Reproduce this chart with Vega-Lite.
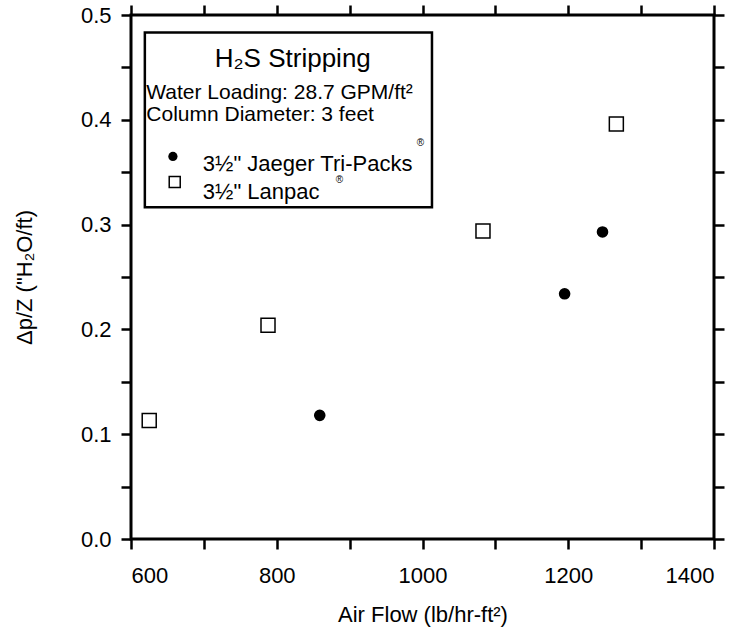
{
  "$schema": "https://vega.github.io/schema/vega-lite/v6.json",
  "autosize": "none",
  "width": 583,
  "height": 524,
  "padding": {"left": 131, "top": 15, "right": 27, "bottom": 97},
  "background": "white",
  "config": {
    "view": {"stroke": "black", "strokeWidth": 3},
    "font": "Liberation Sans",
    "axis": {
      "grid": false,
      "domain": false,
      "tickColor": "black",
      "tickWidth": 2.5,
      "labelColor": "black",
      "titleColor": "black",
      "labelFont": "Liberation Sans",
      "titleFont": "Liberation Sans",
      "labelFontSize": 22,
      "titleFontSize": 22,
      "titleFontWeight": "normal",
      "tickSize": 10
    }
  },
  "datasets": {
    "jaeger": [
      {"airflow": 859, "dpz": 0.118},
      {"airflow": 1195, "dpz": 0.234},
      {"airflow": 1247, "dpz": 0.293}
    ],
    "lanpac": [
      {"airflow": 625, "dpz": 0.113},
      {"airflow": 788, "dpz": 0.204},
      {"airflow": 1083, "dpz": 0.294},
      {"airflow": 1266, "dpz": 0.396}
    ],
    "box": [{"x1": 619, "x2": 1013, "y1": 0.3165, "y2": 0.4834}],
    "heading": [{"x": 822, "y": 0.458, "text": "H₂S Stripping"}],
    "info": [
      {"x": 621, "y": 0.426, "text": "Water Loading: 28.7 GPM/ft²"},
      {"x": 621, "y": 0.405, "text": "Column Diameter: 3 feet"}
    ],
    "symJaeger": [{"x": 657.5, "y": 0.365}],
    "symLanpac": [{"x": 660, "y": 0.3406}],
    "entries": [
      {"x": 698.6, "y": 0.358, "text": "3½\" Jaeger Tri-Packs"},
      {"x": 698.6, "y": 0.331, "text": "3½\" Lanpac"}
    ],
    "reg": [
      {"x": 997, "y": 0.3775, "text": "®"},
      {"x": 886, "y": 0.3422, "text": "®"}
    ]
  },
  "layer": [
    {
      "data": {"name": "box"},
      "mark": {"type": "rect", "fill": "white", "stroke": "black", "strokeWidth": 2.5},
      "encoding": {
        "x": {"field": "x1", "type": "quantitative", "scale": {"domain": [600, 1400], "nice": false, "zero": false}, "axis": null},
        "x2": {"field": "x2"},
        "y": {"field": "y1", "type": "quantitative", "scale": {"domain": [0, 0.5], "nice": false, "zero": false}, "axis": null},
        "y2": {"field": "y2"}
      }
    },
    {
      "data": {"name": "jaeger"},
      "mark": {"type": "circle", "color": "black", "opacity": 1, "size": 135},
      "encoding": {
        "x": {"field": "airflow", "type": "quantitative", "scale": {"domain": [600, 1400], "nice": false, "zero": false},
              "axis": {"orient": "bottom", "values": [600, 700, 800, 900, 1000, 1100, 1200, 1300, 1400], "format": "d",
                       "labelExpr": "datum.value % 200 === 0 ? datum.label : ''", "labelPadding": 16,
                       "title": "Air Flow (lb/hr-ft²)", "titlePadding": 18,
                       "encode": {"ticks": {
                         "y": {"condition": {"test": "datum.value % 200 === 0", "value": -10}, "value": -6},
                         "y2": {"condition": {"test": "datum.value % 200 === 0", "value": 10}, "value": 6}
                       }}}},
        "y": {"field": "dpz", "type": "quantitative", "scale": {"domain": [0, 0.5], "nice": false, "zero": false},
              "axis": {"orient": "left", "values": [0, 0.05, 0.1, 0.15, 0.2, 0.25, 0.3, 0.35, 0.4, 0.45, 0.5], "format": ".1f",
                       "labelExpr": "abs(datum.value*10 - round(datum.value*10)) < 0.000001 ? datum.label : ''", "labelPadding": 10,
                       "title": "Δp/Z (\"H₂O/ft)", "titlePadding": 44,
                       "encode": {"ticks": {
                         "x": {"condition": {"test": "abs(datum.value*10 - round(datum.value*10)) < 0.000001", "value": -10}, "value": -6},
                         "x2": {"condition": {"test": "abs(datum.value*10 - round(datum.value*10)) < 0.000001", "value": 10}, "value": 6}
                       }}}}
      }
    },
    {
      "data": {"name": "lanpac"},
      "mark": {"type": "square", "filled": false, "stroke": "black", "strokeWidth": 1.5, "opacity": 1, "size": 196},
      "encoding": {
        "x": {"field": "airflow", "type": "quantitative", "scale": {"domain": [600, 1400], "nice": false, "zero": false}, "axis": null},
        "y": {"field": "dpz", "type": "quantitative", "scale": {"domain": [0, 0.5], "nice": false, "zero": false}, "axis": null}
      }
    },
    {
      "data": {"name": "heading"},
      "mark": {"type": "text", "fontSize": 26, "align": "center", "color": "black", "font": "Liberation Sans"},
      "encoding": {
        "x": {"field": "x", "type": "quantitative", "scale": {"domain": [600, 1400], "nice": false, "zero": false},
              "axis": {"orient": "top", "values": [600, 700, 800, 900, 1000, 1100, 1200, 1300, 1400], "labels": false, "title": null,
                       "encode": {"ticks": {
                         "y": {"condition": {"test": "datum.value % 200 === 0", "value": -10}, "value": -6},
                         "y2": {"condition": {"test": "datum.value % 200 === 0", "value": 10}, "value": 6}
                       }}}},
        "y": {"field": "y", "type": "quantitative", "scale": {"domain": [0, 0.5], "nice": false, "zero": false},
              "axis": {"orient": "right", "values": [0, 0.05, 0.1, 0.15, 0.2, 0.25, 0.3, 0.35, 0.4, 0.45, 0.5], "labels": false, "title": null,
                       "encode": {"ticks": {
                         "x": {"condition": {"test": "abs(datum.value*10 - round(datum.value*10)) < 0.000001", "value": -10}, "value": -6},
                         "x2": {"condition": {"test": "abs(datum.value*10 - round(datum.value*10)) < 0.000001", "value": 10}, "value": 6}
                       }}}},
        "text": {"field": "text"}
      }
    },
    {
      "data": {"name": "info"},
      "mark": {"type": "text", "fontSize": 21, "align": "left", "color": "black", "font": "Liberation Sans"},
      "encoding": {
        "x": {"field": "x", "type": "quantitative", "axis": null},
        "y": {"field": "y", "type": "quantitative", "axis": null},
        "text": {"field": "text"}
      }
    },
    {
      "data": {"name": "symJaeger"},
      "mark": {"type": "circle", "color": "black", "opacity": 1, "size": 85},
      "encoding": {
        "x": {"field": "x", "type": "quantitative", "axis": null},
        "y": {"field": "y", "type": "quantitative", "axis": null}
      }
    },
    {
      "data": {"name": "symLanpac"},
      "mark": {"type": "square", "filled": false, "stroke": "black", "strokeWidth": 1.5, "opacity": 1, "size": 121},
      "encoding": {
        "x": {"field": "x", "type": "quantitative", "axis": null},
        "y": {"field": "y", "type": "quantitative", "axis": null}
      }
    },
    {
      "data": {"name": "entries"},
      "mark": {"type": "text", "fontSize": 22, "align": "left", "color": "black", "font": "Liberation Sans"},
      "encoding": {
        "x": {"field": "x", "type": "quantitative", "axis": null},
        "y": {"field": "y", "type": "quantitative", "axis": null},
        "text": {"field": "text"}
      }
    },
    {
      "data": {"name": "reg"},
      "mark": {"type": "text", "fontSize": 10, "align": "center", "baseline": "middle", "color": "black", "font": "Liberation Sans"},
      "encoding": {
        "x": {"field": "x", "type": "quantitative", "axis": null},
        "y": {"field": "y", "type": "quantitative", "axis": null},
        "text": {"field": "text"}
      }
    }
  ],
  "resolve": {"axis": {"x": "independent", "y": "independent"}}
}
